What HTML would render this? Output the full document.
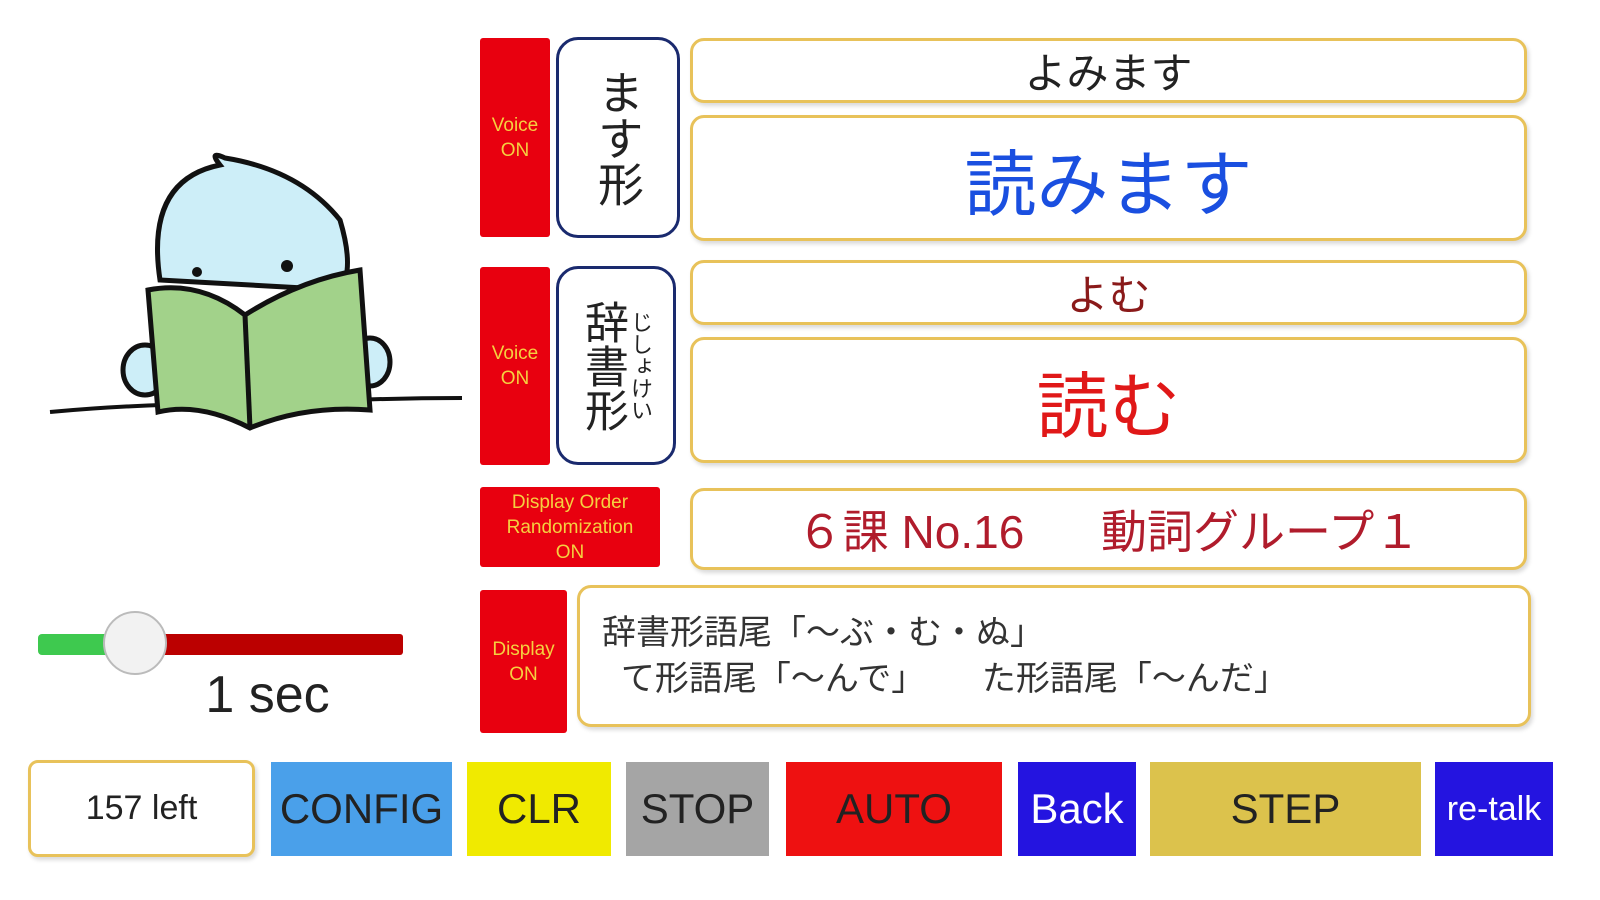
<!DOCTYPE html>
<html><head><meta charset="utf-8"><style>
body{margin:0;width:1600px;height:900px;background:#fff;position:relative;overflow:hidden;font-family:"Liberation Sans","Noto Sans CJK JP",sans-serif}
.a{position:absolute;box-sizing:border-box;display:flex;align-items:center;justify-content:center;text-align:center}
.r{background:#e8000f;color:#f5d040;font-size:19px;line-height:25px;border-radius:3px}
.y{border:3px solid #e8c25a;border-radius:14px;background:#fff;box-shadow:2px 3px 4px rgba(0,0,0,.15)}
.b{border:3px solid #1a2a6e;border-radius:22px;background:#fff;color:#222}
.btn{font-size:42px;color:#222}
</style></head><body>
<svg class="a" style="left:40px;top:140px" width="430" height="300" viewBox="0 0 430 300">
<path d="M10 272 Q120 262 210 265 Q320 258 422 258" stroke="#111" stroke-width="4" fill="none"/>
<path d="M120 140 Q105 40 180 25 Q168 10 185 18 Q260 30 300 80 Q315 130 300 150 Z" fill="#cdeef8" stroke="#111" stroke-width="5"/>
<circle cx="157" cy="132" r="5" fill="#111"/><circle cx="247" cy="126" r="6" fill="#111"/>
<ellipse cx="105" cy="230" rx="22" ry="25" fill="#cdeef8" stroke="#111" stroke-width="5"/>
<ellipse cx="330" cy="222" rx="20" ry="24" fill="#cdeef8" stroke="#111" stroke-width="5"/>
<path d="M108 150 Q160 140 205 175 Q260 140 320 130 L330 270 Q265 265 210 288 Q160 262 118 272 Z" fill="#a2d28a" stroke="#111" stroke-width="5"/>
<path d="M205 175 L210 288" stroke="#111" stroke-width="5"/>
</svg>
<div class="a" style="left:38px;top:634px;width:90px;height:21px;background:#3ec94f;border-radius:4px"></div>
<div class="a" style="left:140px;top:634px;width:263px;height:21px;background:#b00;border-radius:3px"></div>
<div class="a" style="left:103px;top:611px;width:64px;height:64px;border-radius:50%;background:#f2f2f2;border:2px solid #bbb"></div>
<div class="a" style="left:190px;top:665px;width:155px;height:60px;font-size:52px;color:#222">1 sec</div>

<div class="a r" style="left:480px;top:38px;width:70px;height:199px">Voice<br>ON</div>
<div class="a b" style="left:556px;top:37px;width:124px;height:201px;font-size:46px;line-height:52px;writing-mode:vertical-rl">ます形</div>
<div class="a r" style="left:480px;top:267px;width:70px;height:198px">Voice<br>ON</div>
<div class="a b" style="left:556px;top:266px;width:120px;height:199px"><span style="font-size:44px;line-height:46px;writing-mode:vertical-rl">辞書形</span><span style="font-size:22px;line-height:26px;writing-mode:vertical-rl;margin-left:2px">じしょけい</span></div>
<div class="a r" style="left:480px;top:487px;width:180px;height:80px;font-size:19px;line-height:25px">Display Order<br>Randomization<br>ON</div>
<div class="a r" style="left:480px;top:590px;width:87px;height:143px">Display<br>ON</div>

<div class="a y" style="left:690px;top:38px;width:837px;height:65px;font-size:42px;color:#222">よみます</div>
<div class="a y" style="left:690px;top:115px;width:837px;height:126px;font-size:72px;color:#1a4fe0">読みます</div>
<div class="a y" style="left:690px;top:260px;width:837px;height:65px;font-size:42px;color:#8a1a1a">よむ</div>
<div class="a y" style="left:690px;top:337px;width:837px;height:126px;font-size:72px;color:#e01818">読む</div>
<div class="a y" style="left:690px;top:488px;width:837px;height:82px;font-size:46px;color:#b01c2c;white-space:pre">６課 No.16      動詞グループ１</div>
<div class="a y" style="left:577px;top:585px;width:954px;height:142px;font-size:34px;color:#333;justify-content:flex-start;text-align:left;padding-left:22px;line-height:46px;white-space:pre">辞書形語尾「～ぶ・む・ぬ」
  て形語尾「～んで」      た形語尾「～んだ」</div>

<div class="a y" style="left:28px;top:760px;width:227px;height:97px;font-size:34px;color:#222;border-radius:10px">157 left</div>
<div class="a btn" style="left:271px;top:762px;width:181px;height:94px;background:#4aa0ea">CONFIG</div>
<div class="a btn" style="left:467px;top:762px;width:144px;height:94px;background:#f0ea00">CLR</div>
<div class="a btn" style="left:626px;top:762px;width:143px;height:94px;background:#a5a5a5">STOP</div>
<div class="a btn" style="left:786px;top:762px;width:216px;height:94px;background:#ee1111">AUTO</div>
<div class="a btn" style="left:1018px;top:762px;width:118px;height:94px;background:#2414e0;color:#fff">Back</div>
<div class="a btn" style="left:1150px;top:762px;width:271px;height:94px;background:#dcc24c">STEP</div>
<div class="a btn" style="left:1435px;top:762px;width:118px;height:94px;background:#2414e0;color:#fff;font-size:34px">re-talk</div>
</body></html>
